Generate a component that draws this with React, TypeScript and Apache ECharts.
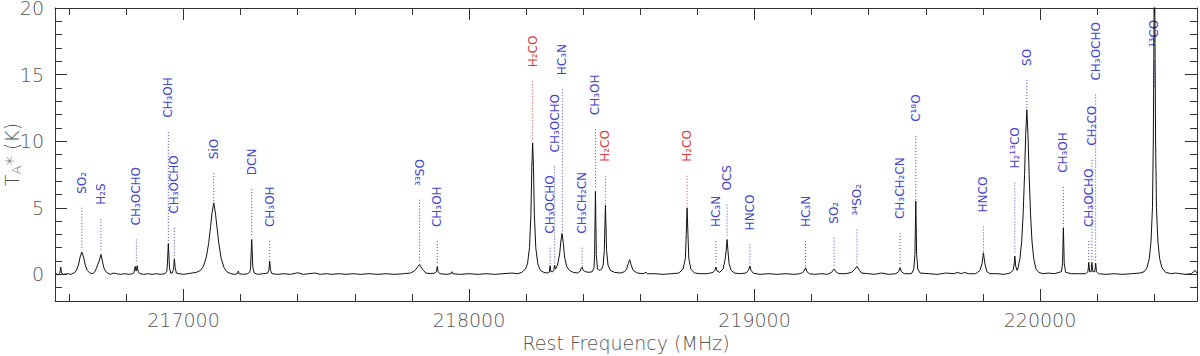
import React, { useEffect, useRef } from "react";
import * as echarts from "echarts";

// Spectrum samples: [rest frequency (MHz), TA* (K)]
const spectrum: [number, number][] = [
  [216550, 0.0], [216555, 0.05], [216560, -0.05], [216565, 0.05], [216567, 0.1], [216570, 0.55], [216573, 0.1],
  [216580, 0.0], [216595, 0.05], [216605, 0.0], [216615, 0.1], [216618, 0.1], [216625, 0.3], [216632, 0.7],
  [216638, 1.3], [216644, 1.67], [216650, 1.3], [216656, 0.7], [216663, 0.3], [216672, 0.1], [216680, 0.05],
  [216688, 0.15], [216695, 0.45], [216700, 0.75], [216705, 1.0], [216711, 1.5], [216716, 1.0], [216721, 0.5],
  [216728, 0.2], [216736, 0.08], [216745, 0.0], [216755, 0.1], [216765, 0.05], [216780, 0.0], [216795, 0.05],
  [216810, 0.0], [216822, 0.05], [216826, 0.1], [216831, 0.6], [216834, 0.25], [216838, 0.65], [216842, 0.15],
  [216848, 0.05], [216860, 0.0], [216875, 0.05], [216890, 0.0], [216905, 0.05], [216920, 0.0], [216935, 0.05],
  [216941, 0.2], [216943, 0.5], [216947, 2.32], [216951, 0.5], [216955, 0.1], [216960, 0.1], [216964, 0.3],
  [216966, 0.6], [216968, 1.17], [216971, 0.5], [216975, 0.1], [216985, 0.05], [217000, 0.0], [217015, 0.05],
  [217030, 0.1], [217045, 0.15], [217060, 0.3], [217070, 0.6], [217080, 1.3], [217088, 2.3], [217095, 3.6],
  [217100, 4.6], [217106, 5.37], [217112, 4.6], [217117, 3.6], [217124, 2.3], [217132, 1.2], [217142, 0.5],
  [217152, 0.2], [217165, 0.05], [217180, 0.0], [217189, 0.05], [217192, 0.25], [217195, 0.05], [217210, 0.0],
  [217225, 0.05], [217233, 0.2], [217235, 0.5], [217239, 2.62], [217243, 0.5], [217248, 0.1], [217260, 0.0],
  [217280, 0.05], [217295, 0.1], [217299, 0.3], [217302, 1.0], [217305, 0.3], [217310, 0.05], [217330, 0.0],
  [217350, 0.05], [217375, 0.0], [217400, 0.12], [217420, 0.0], [217440, 0.05], [217460, 0.1], [217480, 0.0],
  [217500, 0.05], [217520, 0.0], [217545, 0.05], [217570, 0.0], [217595, 0.05], [217620, 0.0], [217650, 0.05],
  [217680, 0.0], [217710, 0.05], [217740, 0.0], [217770, 0.05], [217795, 0.1], [217808, 0.25], [217815, 0.4],
  [217822, 0.6], [217827, 0.75], [217832, 0.55], [217840, 0.3], [217850, 0.1], [217865, 0.05], [217880, 0.1],
  [217886, 0.2], [217889, 0.6], [217892, 0.2], [217898, 0.05], [217920, 0.0], [217937, 0.05], [217940, 0.2],
  [217943, 0.05], [217970, 0.0], [218000, 0.05], [218030, 0.0], [218060, 0.05], [218090, 0.0], [218120, 0.05],
  [218150, 0.1], [218170, 0.05], [218185, 0.15], [218198, 0.4], [218205, 0.8], [218212, 2.0], [218217, 4.5],
  [218220, 8.0], [218223, 9.87], [218226, 8.0], [218229, 4.5], [218234, 2.0], [218241, 0.8], [218250, 0.3],
  [218262, 0.15], [218275, 0.1], [218281, 0.15], [218284, 0.65], [218287, 0.2], [218294, 0.2], [218297, 0.3],
  [218300, 0.7], [218303, 0.4], [218310, 0.7], [218313, 1.0], [218318, 1.6], [218322, 2.5], [218326, 3.07],
  [218330, 2.4], [218335, 1.3], [218342, 0.6], [218352, 0.3], [218365, 0.15], [218380, 0.1], [218390, 0.25],
  [218393, 0.45], [218396, 0.55], [218400, 0.3], [218408, 0.2], [218420, 0.15], [218432, 0.2], [218438, 0.5],
  [218440, 1.5], [218443, 6.24], [218446, 1.5], [218450, 0.4], [218458, 0.3], [218465, 0.4], [218470, 0.7],
  [218474, 1.8], [218478, 5.2], [218482, 1.8], [218487, 0.7], [218495, 0.3], [218510, 0.15], [218530, 0.1],
  [218545, 0.2], [218552, 0.4], [218558, 0.8], [218563, 1.1], [218568, 0.7], [218575, 0.3], [218590, 0.1],
  [218610, 0.05], [218620, 0.15], [218625, 0.05], [218650, 0.05], [218680, 0.0], [218710, 0.05], [218735, 0.1],
  [218750, 0.4], [218758, 1.2], [218761, 3.0], [218764, 5.0], [218767, 3.0], [218770, 1.2], [218777, 0.4],
  [218790, 0.1], [218810, 0.05], [218835, 0.05], [218855, 0.15], [218861, 0.3], [218865, 0.55], [218869, 0.25],
  [218878, 0.15], [218890, 0.4], [218897, 1.1], [218901, 1.8], [218904, 2.62], [218907, 1.8], [218911, 0.8],
  [218918, 0.3], [218930, 0.1], [218950, 0.05], [218970, 0.1], [218979, 0.3], [218984, 0.62], [218988, 0.3],
  [218996, 0.08], [219020, 0.0], [219050, 0.05], [219080, 0.0], [219110, 0.05], [219140, 0.0], [219160, 0.05],
  [219172, 0.2], [219179, 0.5], [219184, 0.2], [219192, 0.05], [219210, 0.0], [219235, 0.05], [219255, 0.0],
  [219270, 0.15], [219279, 0.4], [219285, 0.2], [219295, 0.05], [219320, 0.05], [219340, 0.15], [219350, 0.35],
  [219359, 0.6], [219366, 0.35], [219375, 0.1], [219400, 0.05], [219420, 0.0], [219445, 0.1], [219470, 0.0],
  [219495, 0.05], [219505, 0.2], [219510, 0.5], [219515, 0.2], [219525, 0.05], [219550, 0.05], [219558, 0.4],
  [219562, 1.5], [219565, 5.5], [219568, 1.5], [219572, 0.4], [219580, 0.1], [219610, 0.05], [219640, 0.0],
  [219670, 0.1], [219700, 0.05], [219710, 0.15], [219725, 0.05], [219735, 0.15], [219750, 0.05], [219775, 0.05],
  [219790, 0.3], [219797, 0.8], [219802, 1.62], [219807, 0.8], [219814, 0.2], [219825, 0.05], [219850, 0.05],
  [219875, 0.0], [219895, 0.1], [219906, 0.3], [219910, 0.8], [219912, 1.37], [219915, 0.6], [219920, 0.3],
  [219922, 0.4], [219930, 1.2], [219936, 2.5], [219941, 4.5], [219946, 7.5], [219950, 10.5], [219954, 12.36],
  [219958, 10.5], [219962, 7.5], [219967, 4.5], [219972, 2.5], [219978, 1.2], [219986, 0.4], [219996, 0.15],
  [220010, 0.05], [220030, 0.1], [220050, 0.05], [220075, 0.2], [220079, 0.8], [220082, 3.5], [220085, 0.8],
  [220090, 0.15], [220110, 0.05], [220135, 0.05], [220160, 0.05], [220168, 0.2], [220171, 0.9], [220174, 0.2],
  [220179, 0.2], [220182, 0.9], [220185, 0.2], [220192, 0.2], [220195, 0.85], [220198, 0.2], [220205, 0.05],
  [220230, 0.0], [220260, 0.05], [220290, 0.0], [220320, 0.05], [220350, 0.1], [220365, 0.2], [220375, 0.5],
  [220383, 1.2], [220389, 2.5], [220394, 5.0], [220397, 10.0], [220399, 17.0], [220401, 26.0], [220403, 17.0],
  [220405, 10.0], [220408, 5.0], [220413, 2.5], [220419, 1.2], [220427, 0.5], [220440, 0.15], [220460, 0.05],
  [220475, 0.1], [220490, 0.05], [220510, 0.0], [220530, 0.05], [220544, 0.3], [220550, 0.1],
];

// Line identifications: [frequency, dotted line top (K), dotted line bottom (K), species, red flag]
const lineMarks: [number, number, number, string, number][] = [
  [216644, 5.0, 1.9, "SO₂", 0],
  [216711, 4.17, 1.8, "H₂S", 0],
  [216835, 2.62, 0.8, "CH₃OCHO", 0],
  [216947, 10.7, 2.5, "CH₃OH", 0],
  [216968, 3.5, 1.3, "CH₃OCHO", 0],
  [217106, 7.6, 5.5, "SiO", 0],
  [217239, 6.4, 2.8, "DCN", 0],
  [217302, 2.5, 1.1, "CH₃OH", 0],
  [217827, 5.6, 0.9, "³³SO", 0],
  [217889, 2.5, 0.7, "CH₃OH", 0],
  [218223, 14.5, 10.0, "H₂CO", 1],
  [218284, 2.0, 0.7, "CH₃OCHO", 0],
  [218300, 8.1, 0.8, "CH₃OCHO", 0],
  [218327, 13.9, 3.2, "HC₃N", 0],
  [218396, 2.0, 0.6, "CH₃CH₂CN", 0],
  [218443, 10.9, 6.4, "CH₃OH", 0],
  [218478, 7.4, 5.3, "H₂CO", 1],
  [218764, 7.4, 5.1, "H₂CO", 1],
  [218865, 2.5, 0.7, "HC₃N", 0],
  [218904, 5.24, 2.8, "OCS", 0],
  [218984, 2.25, 0.7, "HNCO", 0],
  [219179, 2.5, 0.6, "HC₃N", 0],
  [219279, 2.75, 0.5, "SO₂", 0],
  [219359, 3.37, 0.7, "³⁴SO₂", 0],
  [219510, 3.1, 0.6, "CH₃CH₂CN", 0],
  [219565, 10.4, 5.6, "C¹⁸O", 0],
  [219802, 3.6, 1.7, "HNCO", 0],
  [219912, 6.9, 1.5, "H₂¹³CO", 0],
  [219954, 14.6, 12.5, "SO", 0],
  [220082, 6.57, 3.6, "CH₃OH", 0],
  [220171, 2.5, 1.0, "CH₃OCHO", 0],
  [220182, 8.6, 1.0, "CH₂CO", 0],
  [220195, 13.5, 1.0, "CH₃OCHO", 0],
  [220401, 16.0, 14.0, "¹³CO", 0],
];

const xMajorTicks = [217000, 218000, 219000, 220000];
const xMinorTicks = [
  216600, 216800, 217000, 217200, 217400, 217600, 217800, 218000, 218200, 218400,
  218600, 218800, 219000, 219200, 219400, 219600, 219800, 220000, 220200, 220400,
];
const yMajorTicks = [0, 5, 10, 15, 20];
const yMinorTicks = [-2, -1, 0, 1, 2, 3, 4, 5, 6, 7, 8, 9, 10, 11, 12, 13, 14, 15, 16, 17, 18, 19, 20];

const X_MIN = 216550;
const X_MAX = 220550;
const Y_MIN = -2;
const Y_MAX = 20;

const AXIS_COLOR = "#333";
const TEXT_COLOR = "#555";
const FONT = "DejaVu Sans";
const BLUE = "#4444cc";
const RED = "#dc3a3a";

function xAxisDef(position: string, major: boolean, labels: boolean) {
  const def: any = {
    type: "value",
    position,
    min: X_MIN,
    max: X_MAX,
    axisLine: { show: major, onZero: false, lineStyle: { color: AXIS_COLOR, width: 1 } },
    axisTick: {
      show: true,
      inside: true,
      length: major ? 12 : 7,
      customValues: major ? xMajorTicks : xMinorTicks,
      lineStyle: { color: AXIS_COLOR, width: 1 },
    },
    axisLabel: {
      show: labels,
      customValues: xMajorTicks,
      margin: 9,
      fontFamily: FONT,
      fontSize: 19,
      fontWeight: 200,
      color: TEXT_COLOR,
      formatter: (v: number) => String(v),
    },
    splitLine: { show: false },
  };
  if (labels) {
    def.name = "Rest Frequency (MHz)";
    def.nameLocation = "middle";
    def.nameGap = 32;
    def.nameMoveOverlap = false;
    def.nameTextStyle = { fontFamily: FONT, fontSize: 19, fontWeight: 200, color: TEXT_COLOR };
  }
  return def;
}

function yAxisDef(position: string, major: boolean, labels: boolean) {
  const def: any = {
    type: "value",
    position,
    min: Y_MIN,
    max: Y_MAX,
    axisLine: { show: major, onZero: false, lineStyle: { color: AXIS_COLOR, width: 1 } },
    axisTick: {
      show: true,
      inside: true,
      length: major ? 12 : 7,
      customValues: major ? yMajorTicks : yMinorTicks,
      lineStyle: { color: AXIS_COLOR, width: 1 },
    },
    axisLabel: {
      show: labels,
      customValues: yMajorTicks,
      margin: 11,
      fontFamily: FONT,
      fontSize: 19,
      lineHeight: 15,
      fontWeight: 200,
      color: TEXT_COLOR,
      formatter: (v: number) => String(v),
    },
    splitLine: { show: false },
  };
  if (labels) {
    def.name = "{t|T}{s|A}{t|* (K)}";
    def.nameLocation = "middle";
    def.nameGap = 32;
    def.nameMoveOverlap = false;
    def.nameTextStyle = {
      fontFamily: FONT,
      fontSize: 19,
      fontWeight: 200,
      color: TEXT_COLOR,
      rich: {
        t: { fontFamily: FONT, fontSize: 19, fontWeight: 200, color: TEXT_COLOR, lineHeight: 22 },
        s: { fontFamily: FONT, fontSize: 13, fontWeight: 200, color: TEXT_COLOR, lineHeight: 13, verticalAlign: "bottom" },
      },
    };
  }
  return def;
}

export default function App() {
  const ref = useRef<HTMLDivElement>(null);

  useEffect(() => {
    if (!ref.current) return;
    const chart = echarts.init(ref.current, null, { renderer: "svg" });
    chart.setOption({
      animation: false,
      backgroundColor: "#ffffff",
      grid: { left: 55, right: 3, top: 8, bottom: 55, containLabel: false, outerBoundsMode: "none" },
      xAxis: [
        xAxisDef("bottom", true, true),
        xAxisDef("bottom", false, false),
        xAxisDef("top", true, false),
        xAxisDef("top", false, false),
      ],
      yAxis: [
        yAxisDef("left", true, true),
        yAxisDef("left", false, false),
        yAxisDef("right", true, false),
        yAxisDef("right", false, false),
      ],
      series: [
        {
          type: "line",
          xAxisIndex: 0,
          yAxisIndex: 0,
          data: spectrum,
          showSymbol: false,
          symbol: "none",
          clip: true,
          lineStyle: { color: "#111", width: 1 },
          z: 3,
        },
        {
          type: "custom",
          xAxisIndex: 0,
          yAxisIndex: 0,
          clip: false,
          encode: { x: 0, y: [1, 2] },
          data: lineMarks.map((m) => [m[0], m[1], m[2]]),
          z: 2,
          renderItem: (params: any, api: any) => {
            const f = api.value(0);
            const top = api.coord([f, api.value(1)]);
            const bot = api.coord([f, api.value(2)]);
            const mark = lineMarks[params.dataIndex];
            const color = mark[4] ? RED : BLUE;
            return {
              type: "group",
              children: [
                {
                  type: "line",
                  shape: { x1: top[0], y1: top[1], x2: bot[0], y2: bot[1] },
                  style: { stroke: color, lineWidth: 1, lineDash: [1, 2] },
                },
                {
                  type: "text",
                  x: top[0],
                  y: top[1] - 14,
                  rotation: Math.PI / 2,
                  style: {
                    text: mark[3],
                    fill: color,
                    fontFamily: FONT,
                    fontSize: 12,
                    align: "left",
                    verticalAlign: "middle",
                  },
                },
              ],
            };
          },
        },
      ],
    });
    return () => chart.dispose();
  }, []);

  return (
    <div
      ref={ref}
      style={{ position: "fixed", left: 0, top: 0, width: 1200, height: 356, background: "#fff" }}
    />
  );
}
